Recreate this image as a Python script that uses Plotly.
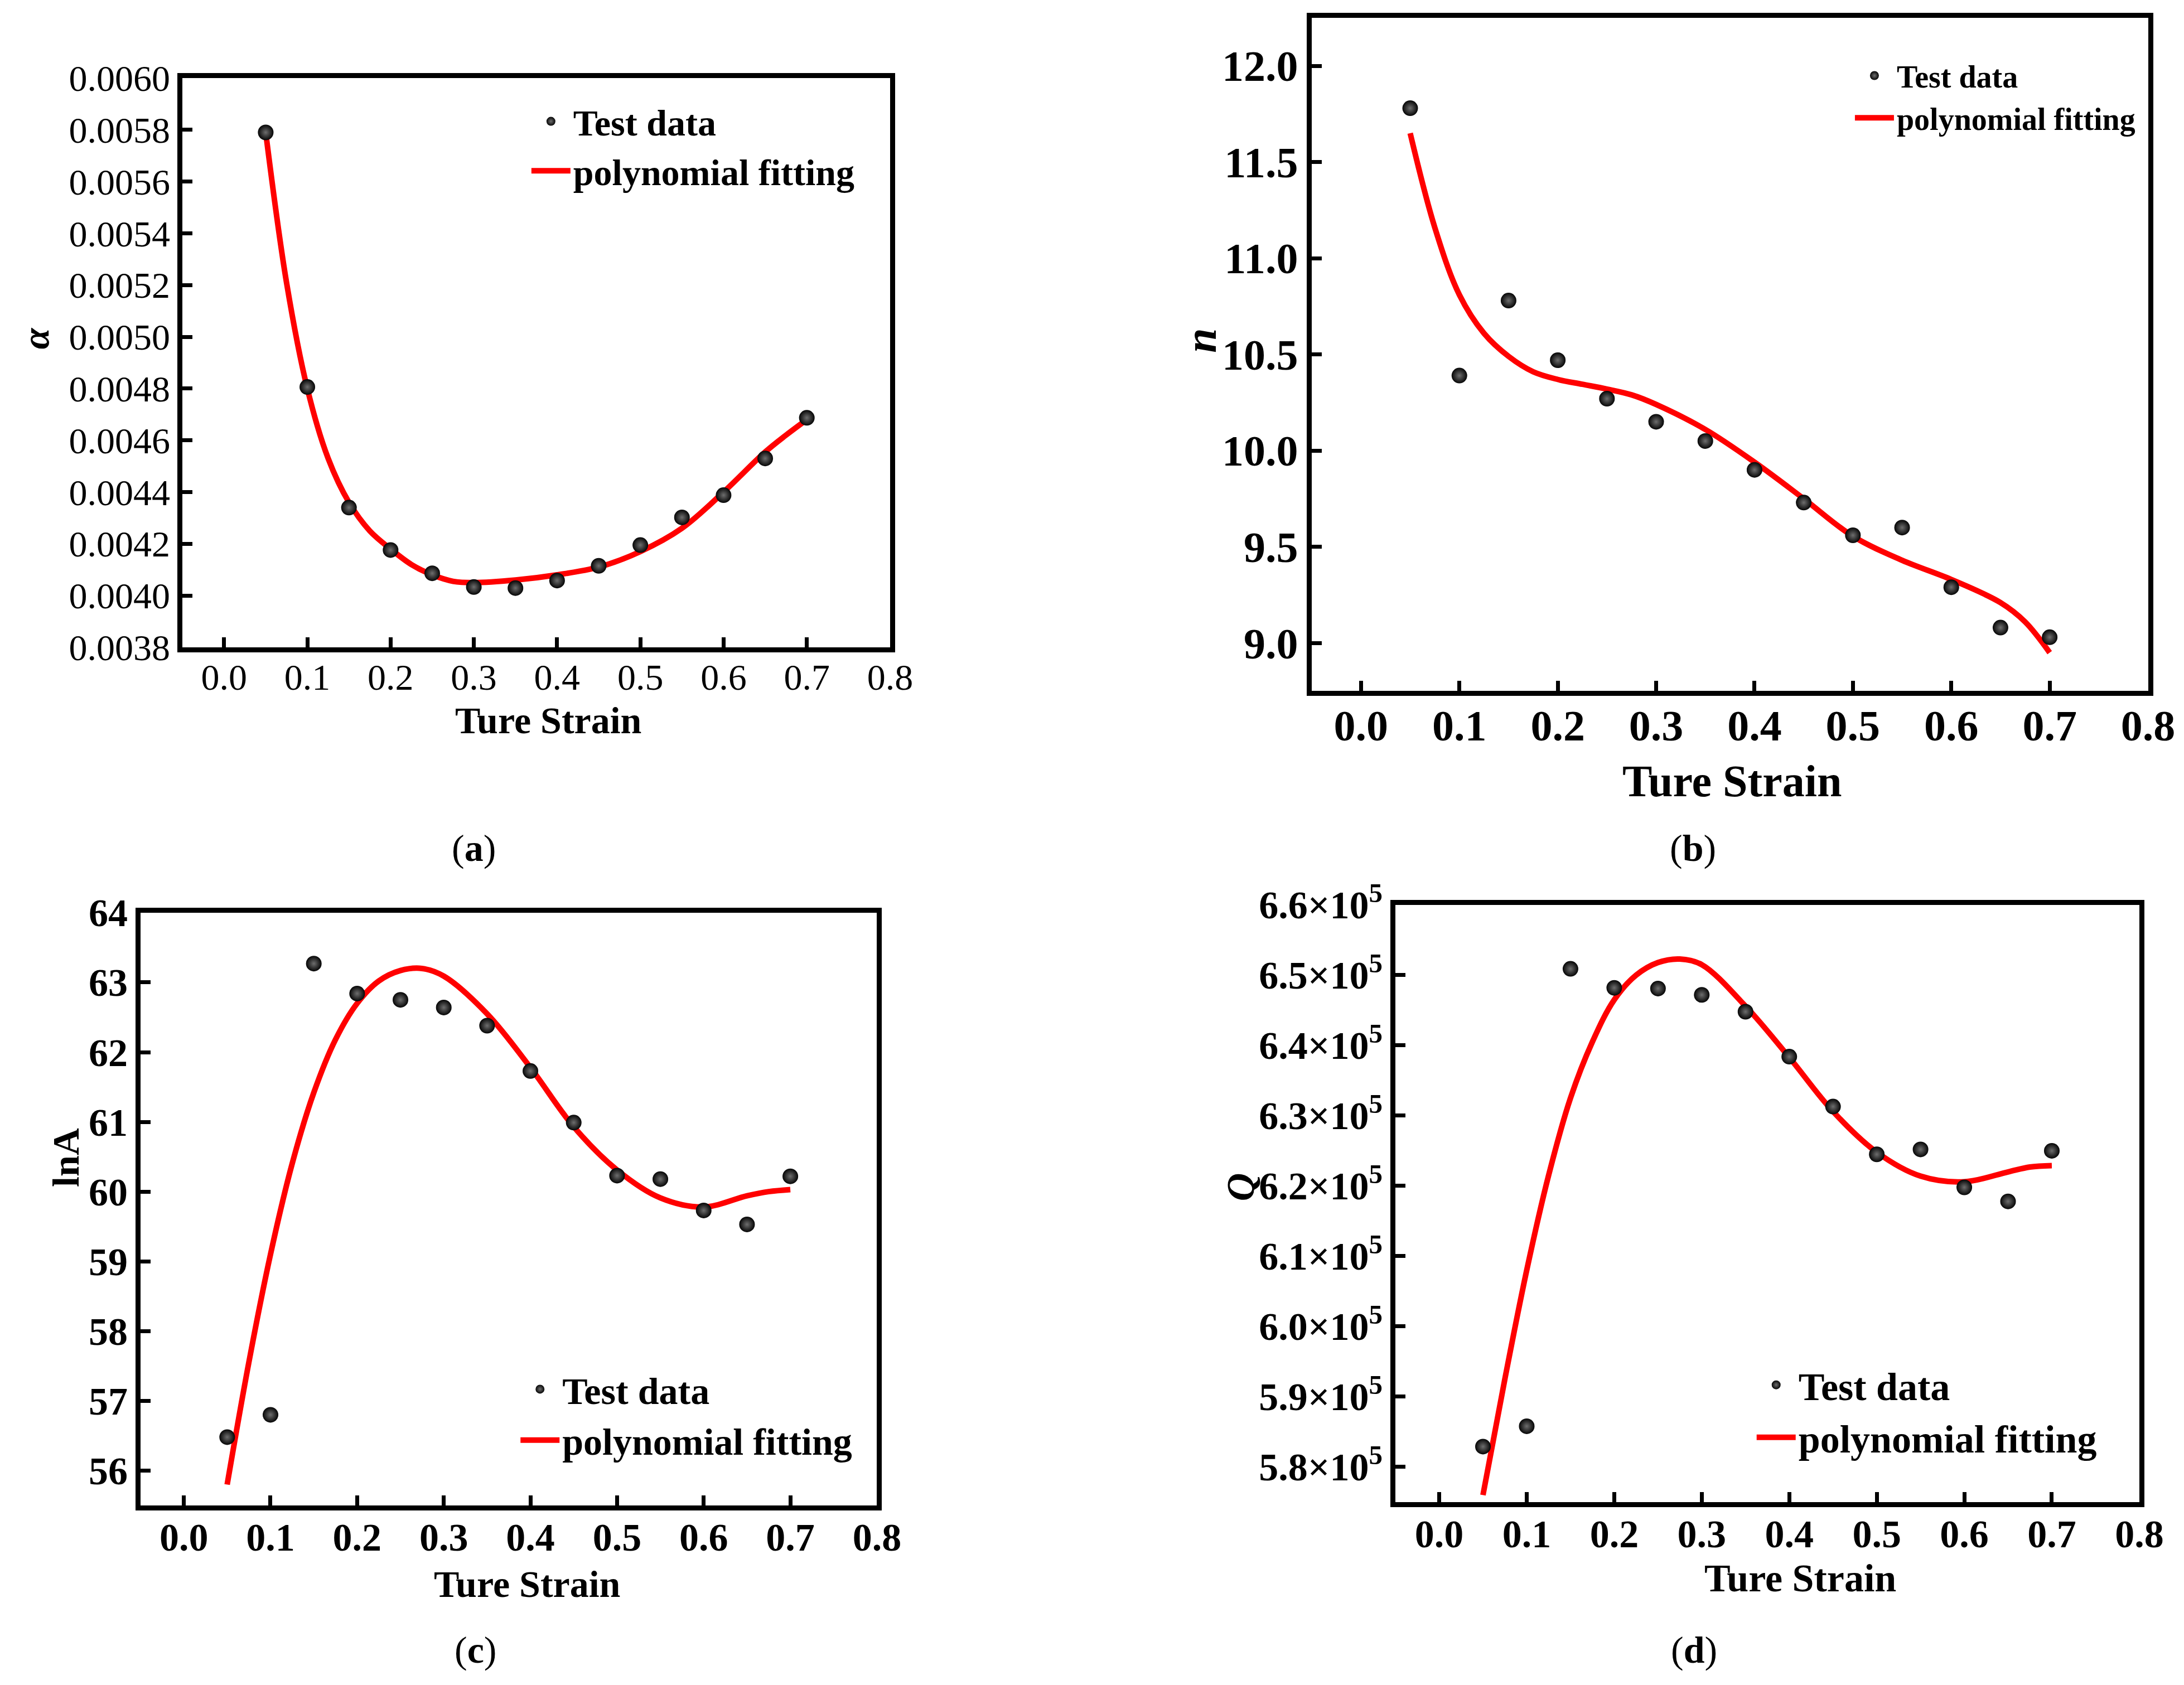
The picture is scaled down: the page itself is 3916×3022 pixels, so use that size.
import plotly.graph_objs as go

# -- datos ---------------------------------------------------------------------------------------------------- -- #
strain = [0.05, 0.10, 0.15, 0.20, 0.25, 0.30, 0.35, 0.40, 0.45, 0.50, 0.55, 0.60, 0.65, 0.70]

alpha_test = [0.00579, 0.004806, 0.00434, 0.004176, 0.004086, 0.004033, 0.004029, 0.004058,
              0.004115, 0.004195, 0.004302, 0.004388, 0.00453, 0.004687]
n_test = [11.78, 10.39, 10.78, 10.47, 10.27, 10.15, 10.05, 9.90, 9.73, 9.56, 9.60, 9.29, 9.08, 9.03]
lna_test = [56.48, 56.80, 63.27, 62.84, 62.75, 62.64, 62.38, 61.73, 60.99, 60.23, 60.18, 59.73, 59.53, 60.22]
q_test = [582900, 585800, 650900, 648200, 648100, 647200, 644800, 638400, 631300, 624500,
          625200, 619800, 617800, 625000]

# curva de ajuste polinomial
strain_fit = [0.05, 0.075, 0.10, 0.125, 0.15, 0.175, 0.20, 0.225, 0.25, 0.275, 0.30, 0.35, 0.40,
              0.45, 0.50, 0.55, 0.60, 0.65, 0.675, 0.70]
alpha_fit = [0.00579, 0.00521, 0.00480, 0.00453, 0.00436, 0.00425, 0.00418, 0.00412, 0.00408,
             0.004055, 0.00405, 0.00406, 0.00408, 0.00411, 0.00417, 0.00426, 0.00440, 0.004555,
             0.00462, 0.00468]
n_fit = [11.65, 11.16, 10.81, 10.61, 10.49, 10.41, 10.37, 10.345, 10.32, 10.29, 10.24, 10.11, 9.94,
         9.75, 9.555, 9.43, 9.33, 9.21, 9.11, 8.95]
lna_fit = [55.80, 57.55, 59.10, 60.40, 61.42, 62.18, 62.70, 63.02, 63.17, 63.20, 63.09, 62.55, 61.78,
           60.93, 60.31, 59.91, 59.78, 59.94, 60.00, 60.03]
q_fit = [576000, 592500, 608000, 621500, 632500, 640500, 646500, 650000, 651800, 652300, 651500,
         645600, 638300, 630600, 624800, 621400, 620600, 622000, 622700, 622900]

x_ticks = [0.0, 0.1, 0.2, 0.3, 0.4, 0.5, 0.6, 0.7, 0.8]
q_ticks = [580000, 590000, 600000, 610000, 620000, 630000, 640000, 650000, 660000]
q_ticktext = ['5.8×10<sup>5</sup>', '5.9×10<sup>5</sup>', '6.0×10<sup>5</sup>', '6.1×10<sup>5</sup>',
              '6.2×10<sup>5</sup>', '6.3×10<sup>5</sup>', '6.4×10<sup>5</sup>', '6.5×10<sup>5</sup>',
              '6.6×10<sup>5</sup>']

FUENTE = 'Liberation Serif'
W, H = 3916, 3022

fig = go.Figure()

paneles = [
    # (sufijo, y test, y fit, legend)
    ('', alpha_test, alpha_fit, 'legend'),
    ('2', n_test, n_fit, 'legend2'),
    ('3', lna_test, lna_fit, 'legend3'),
    ('4', q_test, q_fit, 'legend4'),
]

for suf, y_t, y_f, leg in paneles:
    fig.add_trace(go.Scatter(x=strain_fit, y=y_f, mode='lines', name='polynomial fitting',
                             xaxis='x' + suf, yaxis='y' + suf, legend=leg, legendrank=2,
                             line=dict(color='#ff0000', width=10, shape='spline', smoothing=1.0)))
    fig.add_trace(go.Scatter(x=strain, y=y_t, mode='markers', name='Test data',
                             xaxis='x' + suf, yaxis='y' + suf, legend=leg, legendrank=1,
                             marker=dict(size=28, color='#050505',
                                         gradient=dict(type='radial', color='#6e6e6e'),
                                         line=dict(width=0))))


def eje(dominio, rango, fuente_tick, **kw):
    d = dict(domain=dominio, range=rango, showline=True, linecolor='black', linewidth=9, mirror=True,
             ticks='inside', ticklen=18, tickwidth=7, tickcolor='black', showgrid=False, zeroline=False,
             tickfont=fuente_tick, automargin=False)
    d.update(kw)
    return d


def leyenda(x, y, size):
    return dict(x=x, y=y, xanchor='left', yanchor='top', bgcolor='rgba(0,0,0,0)', itemwidth=70,
                font=dict(family=FUENTE, size=size, color='black', weight='bold'), tracegroupgap=0,
                traceorder='normal')


f_reg = dict(family=FUENTE, size=66, color='black')
f_b = dict(family=FUENTE, size=70, color='black', weight='bold')

fig.update_layout(
    width=W, height=H, margin=dict(l=0, r=0, t=0, b=0, autoexpand=False),
    paper_bgcolor='white', plot_bgcolor='white',
    # (a)
    xaxis=eje([0.0815, 0.4055], [-0.05, 0.8], f_reg, anchor='y', tickvals=x_ticks, tickformat='.1f',
              ticklabelstandoff=-12),
    yaxis=eje([0.6185, 0.9563], [0.0038, 0.0060], f_reg, anchor='x', dtick=0.0002, tick0=0.0038,
              tickformat='.4f'),
    # (b)
    xaxis2=eje([0.5986, 0.9815], [-0.05, 0.8], dict(f_b, size=78), anchor='y2', tickvals=x_ticks,
               tickformat='.1f', ticklabelstandoff=-14),
    yaxis2=eje([0.5925, 0.9921], [8.75, 12.25], dict(f_b, size=78), anchor='x2', dtick=0.5, tick0=9.0,
               tickformat='.1f'),
    # (c)
    xaxis3=eje([0.0623, 0.3995], [-0.05, 0.8], f_b, anchor='y3', tickvals=x_ticks, tickformat='.1f',
               ticklabelstandoff=-12),
    yaxis3=eje([0.1092, 0.4610], [55.5, 64], f_b, anchor='x3', dtick=1, tick0=56),
    # (d)
    xaxis4=eje([0.6369, 0.9775], [-0.05, 0.8], f_b, anchor='y4', tickvals=x_ticks, tickformat='.1f',
               ticklabelstandoff=-12),
    yaxis4=eje([0.1112, 0.4656], [575000, 660000], f_b, anchor='x4', tickvals=q_ticks,
               ticktext=q_ticktext),
    legend=leyenda(0.2400, 0.9470, 66),
    legend2=leyenda(0.8460, 0.9720, 56),
    legend3=leyenda(0.2350, 0.1950, 68),
    legend4=leyenda(0.8010, 0.1980, 70),
)

# -- titulos de ejes y etiquetas de paneles ------------------------------------------------------------------- -- #
textos = [
    (0.249, 0.5750, '<b>Ture Strain</b>', 68, 0),
    (0.0143, 0.802, '<b><i>α</i></b>', 68, -90),
    (0.215, 0.4993, '(<b>a</b>)', 68, 0),
    (0.7909, 0.5390, '<b>Ture Strain</b>', 80, 0),
    (0.5478, 0.8005, '<b><i>n</i></b>', 80, -90),
    (0.773, 0.4993, '(<b>b</b>)', 68, 0),
    (0.2393, 0.0627, '<b>Ture Strain</b>', 68, 0),
    (0.0281, 0.3157, '<b>lnA</b>', 68, -90),
    (0.2158, 0.0235, '(<b>c</b>)', 68, 0),
    (0.8223, 0.0660, '<b>Ture Strain</b>', 70, 0),
    (0.5659, 0.2981, '<b><i>Q</i></b>', 70, -90),
    (0.7735, 0.0235, '(<b>d</b>)', 68, 0),
]
fig.update_layout(annotations=[
    dict(x=x, y=y, xref='paper', yref='paper', text=t, showarrow=False, textangle=ang,
         xanchor='center', yanchor='middle', font=dict(family=FUENTE, size=s, color='black'))
    for x, y, t, s, ang in textos
])

fig.write_html("out.html")
